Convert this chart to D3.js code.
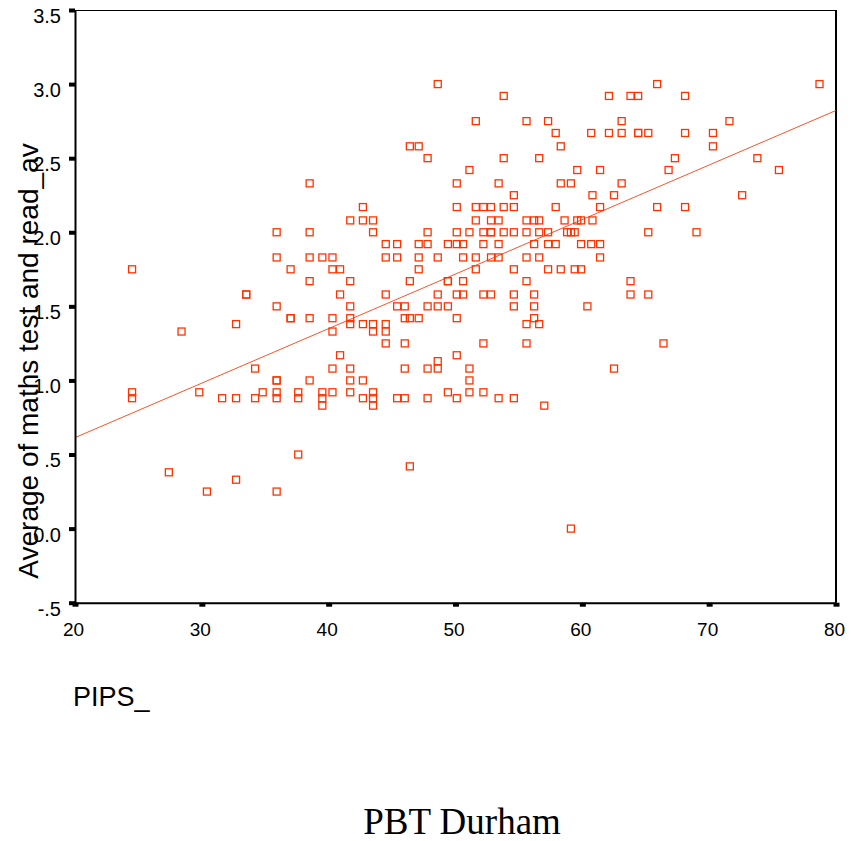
<!DOCTYPE html>
<html>
<head>
<meta charset="utf-8">
<script src="https://cdn.jsdelivr.net/npm/d3@7"></script>
<style>
  body { margin: 0; background: #fff; }
  svg { display: block; }
</style>
</head>
<body>
<div id="chart"></div>
<script>
// average score levels (y) and the PIPS_ scores sitting at each level (x)
const avgLevels = [3.00, 2.92, 2.75, 2.67, 2.58, 2.50, 2.42, 2.33, 2.25, 2.17, 2.08, 2.00,
    1.92, 1.83, 1.75, 1.67, 1.58, 1.50, 1.42, 1.38, 1.33, 1.25, 1.17, 1.13, 1.08, 1.00,
    0.92, 0.88, 0.83, 0.50, 0.42, 0.38, 0.33, 0.25, 0.00];

const pipsByLevel = [
    [48.6, 65.9, 78.7],
    [53.8, 62.1, 63.8, 64.4, 68.1],
    [51.6, 55.6, 57.3, 63.1, 71.6],
    [57.9, 60.7, 62.1, 63.1, 64.4, 64.4, 65.2, 68.1, 70.3],
    [46.4, 47.1, 58.3, 70.3],
    [47.8, 53.8, 56.6, 67.3, 73.8],
    [51.1, 59.6, 61.4, 66.8, 75.5],
    [38.5, 50.1, 53.4, 58.3, 59.1, 63.1],
    [54.6, 60.8, 62.5, 72.6],
    [42.7, 50.1, 51.6, 52.2, 52.8, 53.8, 54.6, 57.9, 61.4, 65.9, 68.1],
    [41.7, 42.7, 43.5, 51.6, 52.8, 53.4, 55.6, 56.2, 56.6, 58.6, 59.6, 59.9, 60.8],
    [35.9, 38.5, 43.5, 47.8, 50.1, 51.1, 52.2, 52.8, 52.8, 53.8, 54.6, 55.6, 56.6, 57.3, 58.8, 59.1, 59.4, 65.2, 69.0],
    [44.5, 45.4, 47.1, 47.8, 49.4, 50.1, 50.6, 52.2, 53.4, 56.2, 57.3, 57.9, 59.9, 60.7, 61.4],
    [35.9, 38.5, 39.5, 40.3, 44.5, 45.4, 47.1, 48.6, 50.6, 51.6, 52.8, 53.4, 55.6, 56.6, 61.4],
    [24.5, 37.0, 40.3, 40.9, 47.1, 51.6, 54.6, 57.3, 58.3, 59.4, 59.9],
    [38.5, 41.7, 46.4, 49.4, 49.4, 50.6, 55.6, 63.8],
    [33.5, 33.5, 40.9, 44.5, 48.6, 50.1, 50.6, 52.2, 52.8, 54.6, 56.2, 63.8, 65.2],
    [35.9, 41.7, 45.4, 46.0, 47.8, 48.6, 49.4, 54.6, 56.2, 60.4],
    [37.0, 37.0, 38.5, 40.3, 41.7, 46.0, 46.4, 47.1, 50.1, 56.2],
    [32.7, 41.7, 42.7, 43.5, 44.5, 55.6, 56.6],
    [28.4, 40.3, 43.5, 44.5],
    [44.5, 46.0, 52.2, 55.6, 66.4],
    [40.9, 50.1],
    [48.6],
    [34.2, 40.3, 41.7, 46.0, 47.8, 48.6, 51.1, 62.5],
    [35.9, 35.9, 38.5, 41.7, 42.7, 51.1],
    [24.5, 29.8, 34.8, 35.9, 37.6, 39.5, 40.3, 41.7, 43.5, 49.4, 51.1, 52.2],
    [24.5, 31.6, 32.7, 34.2, 35.9, 37.6, 39.5, 42.7, 43.5, 45.4, 46.0, 47.8, 50.1, 53.4, 54.6],
    [39.5, 43.5, 57.0],
    [37.6],
    [46.4],
    [27.4],
    [32.7],
    [30.4, 35.9],
    [59.1]
];

// fitted line
const fitIntercept = -0.122;
const fitSlope = 0.0368;

const xTicks = [20, 30, 40, 50, 60, 70, 80];
const yTicks = [-0.5, 0, 0.5, 1, 1.5, 2, 2.5, 3, 3.5];
const yTickLabels = ['-.5', '0.0', '.5', '1.0', '1.5', '2.0', '2.5', '3.0', '3.5'];

const xTitle = 'PIPS_';
const yTitle = 'Average of maths test and read_av';
const chartTitle = 'PBT Durham';

document.addEventListener('DOMContentLoaded', () => {
    renderChart();
});

function renderChart() {
    const width = 851;
    const height = 841;
    const left = 75, right = 836, top = 10, bottom = 602.7;
    const red = '#ff3300';

    const points = avgLevels.flatMap((avg, i) =>
        pipsByLevel[i].map(pips => ({ pips, avg }))
    );

    const svg = d3.select('#chart')
        .append('svg')
        .attr('width', width)
        .attr('height', height);

    const x = d3.scaleLinear().domain([20, 80]).range([left, right]);
    const y = d3.scaleLinear().domain([-0.5, 3.5]).range([bottom, top]);

    // frame top and right
    svg.append('line')
        .attr('x1', left).attr('x2', right)
        .attr('y1', top + 0.5).attr('y2', top + 0.5)
        .attr('stroke', '#000').attr('stroke-width', 1);
    svg.append('line')
        .attr('x1', right).attr('x2', right)
        .attr('y1', top).attr('y2', bottom)
        .attr('stroke', '#000').attr('stroke-width', 2);

    // points
    svg.append('g')
        .selectAll('rect')
        .data(points)
        .enter()
        .append('rect')
        .attr('x', d => x(d.pips) - 3.5)
        .attr('y', d => y(d.avg) - 3.5)
        .attr('width', 7)
        .attr('height', 7)
        .attr('fill', 'none')
        .attr('stroke', red)
        .attr('stroke-width', 1.3);

    // regression line
    svg.append('line')
        .attr('x1', x(20)).attr('y1', y(fitIntercept + fitSlope * 20))
        .attr('x2', x(80)).attr('y2', y(fitIntercept + fitSlope * 80))
        .attr('stroke', red)
        .attr('stroke-width', 1)
        .attr('stroke-opacity', 0.85);

    // y axis
    const yAxis = svg.append('g')
        .attr('transform', `translate(${left},0)`)
        .call(d3.axisLeft(y)
            .tickValues(yTicks)
            .tickFormat((d, i) => yTickLabels[i])
            .tickSize(6)
            .tickSizeOuter(0)
            .tickPadding(8));
    yAxis.select('.domain').attr('stroke-width', 2);
    yAxis.selectAll('.tick line').attr('stroke-width', 4);
    yAxis.selectAll('.tick text')
        .attr('dy', '0.62em')
        .attr('fill', '#000')
        .style('font-family', '"Liberation Sans", Arial, sans-serif')
        .style('font-size', '20px');

    // x axis
    const xAxis = svg.append('g')
        .attr('transform', `translate(0,${bottom})`)
        .call(d3.axisBottom(x)
            .tickValues(xTicks)
            .tickFormat(d3.format('d'))
            .tickSize(4)
            .tickSizeOuter(0)
            .tickPadding(16));
    xAxis.select('.domain').attr('stroke-width', 2);
    xAxis.selectAll('.tick line').attr('stroke-width', 6);
    xAxis.selectAll('.tick text')
        .attr('dx', '-2')
        .attr('fill', '#000')
        .style('font-family', '"Liberation Sans", Arial, sans-serif')
        .style('font-size', '19px');

    // titles
    svg.append('text')
        .attr('transform', 'translate(38,361) rotate(-90)')
        .attr('text-anchor', 'middle')
        .style('font-family', '"Liberation Sans", Arial, sans-serif')
        .style('font-size', '28px')
        .text(yTitle);

    svg.append('text')
        .attr('x', 73)
        .attr('y', 706)
        .style('font-family', '"Liberation Sans", Arial, sans-serif')
        .style('font-size', '27px')
        .text(xTitle);

    svg.append('text')
        .attr('x', 462)
        .attr('y', 834)
        .attr('text-anchor', 'middle')
        .style('font-family', '"Liberation Serif", "Times New Roman", serif')
        .style('font-size', '37px')
        .text(chartTitle);
}
</script>
</body>
</html>
